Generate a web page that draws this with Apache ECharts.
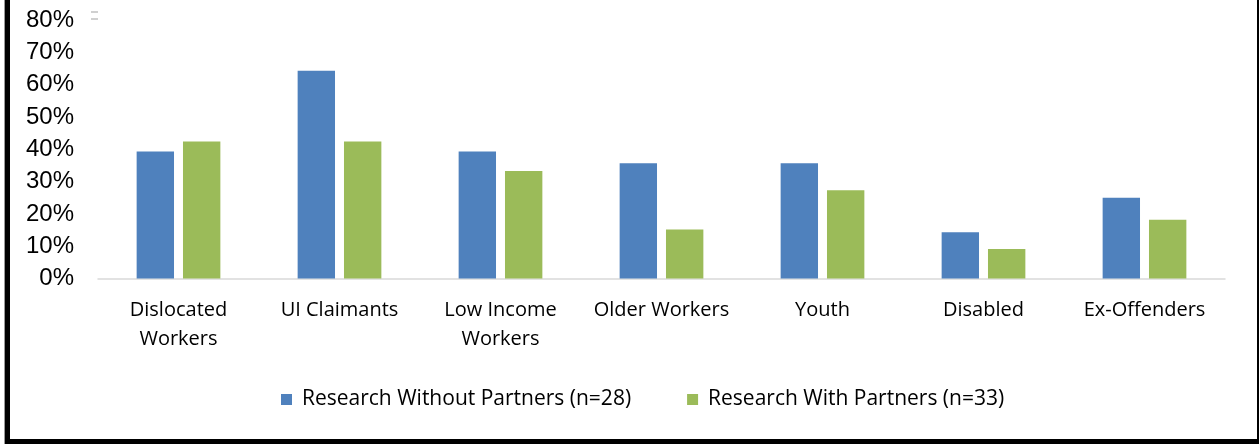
<!DOCTYPE html>
<html>
<head>
<meta charset="utf-8">
<script src="https://cdn.jsdelivr.net/npm/echarts@6/dist/echarts.min.js"></script>
<style>
html,body{margin:0;padding:0;background:#fff;}
#chart{width:1259px;height:444px;}
</style>
</head>
<body>
<div id="chart"></div>
<script>
const categories = ["Dislocated\nWorkers", "UI Claimants", "Low Income\nWorkers", "Older Workers", "Youth", "Disabled", "Ex-Offenders"];
const seriesNames = ["Research Without Partners (n=28)", "Research With Partners (n=33)"];
const withoutPartners = [39.3, 64.3, 39.3, 35.7, 35.7, 14.3, 25.0];
const withPartners = [42.4, 42.4, 33.3, 15.2, 27.3, 9.1, 18.2];
const yTicks = [0, 10, 20, 30, 40, 50, 60, 70, 80];

const chart = echarts.init(document.getElementById('chart'));
chart.setOption({
  animation: false,
  backgroundColor: '#fff',
  grid: {left: 98, right: 34, top: 20, bottom: 165.5, containLabel: false},
  legend: {
    data: seriesNames,
    left: 276, top: 384,
    icon: 'rect', itemWidth: 11, itemHeight: 11, itemGap: 56,
    textStyle: {fontFamily: 'Open Sans', fontSize: 21, color: '#000', padding: [0, 0, 0, 5]}
  },
  xAxis: {
    type: 'category',
    data: categories,
    axisLine: {lineStyle: {color: '#d9d9d9', width: 1.5}},
    axisTick: {show: false},
    axisLabel: {fontFamily: 'Open Sans', fontSize: 20, color: '#000', lineHeight: 29, margin: 17, interval: 0}
  },
  yAxis: {
    type: 'value',
    min: 0, max: 80, interval: 10,
    axisLine: {show: false},
    axisTick: {show: false},
    splitLine: {show: false},
    axisLabel: {fontFamily: 'Liberation Sans', fontSize: 24, color: '#000', margin: 24, padding: [5, 0, 0, 0],
      formatter: v => yTicks.includes(v) ? v + '%' : ''}
  },
  series: [
    {name: seriesNames[0], type: 'bar', data: withoutPartners, barGap: '24%', barCategoryGap: '48%',
     itemStyle: {color: '#4f81bd'}},
    {name: seriesNames[1], type: 'bar', data: withPartners,
     itemStyle: {color: '#9bbb59'}}
  ],
  graphic: [
    {type: 'rect', shape: {x: 4, y: 0, width: 1, height: 444}, style: {fill: '#999'}},
    {type: 'rect', shape: {x: 5, y: 0, width: 5, height: 444}, style: {fill: '#000'}},
    {type: 'rect', shape: {x: 5, y: 439, width: 1254, height: 5}, style: {fill: '#000'}},
    {type: 'rect', shape: {x: 1257, y: 0, width: 2, height: 444}, style: {fill: '#000'}},
    {type: 'rect', shape: {x: 91, y: 11, width: 7, height: 2}, style: {fill: '#d0d0d0'}},
    {type: 'rect', shape: {x: 91, y: 18, width: 7, height: 2}, style: {fill: '#d0d0d0'}}
  ]
});
</script>
</body>
</html>
